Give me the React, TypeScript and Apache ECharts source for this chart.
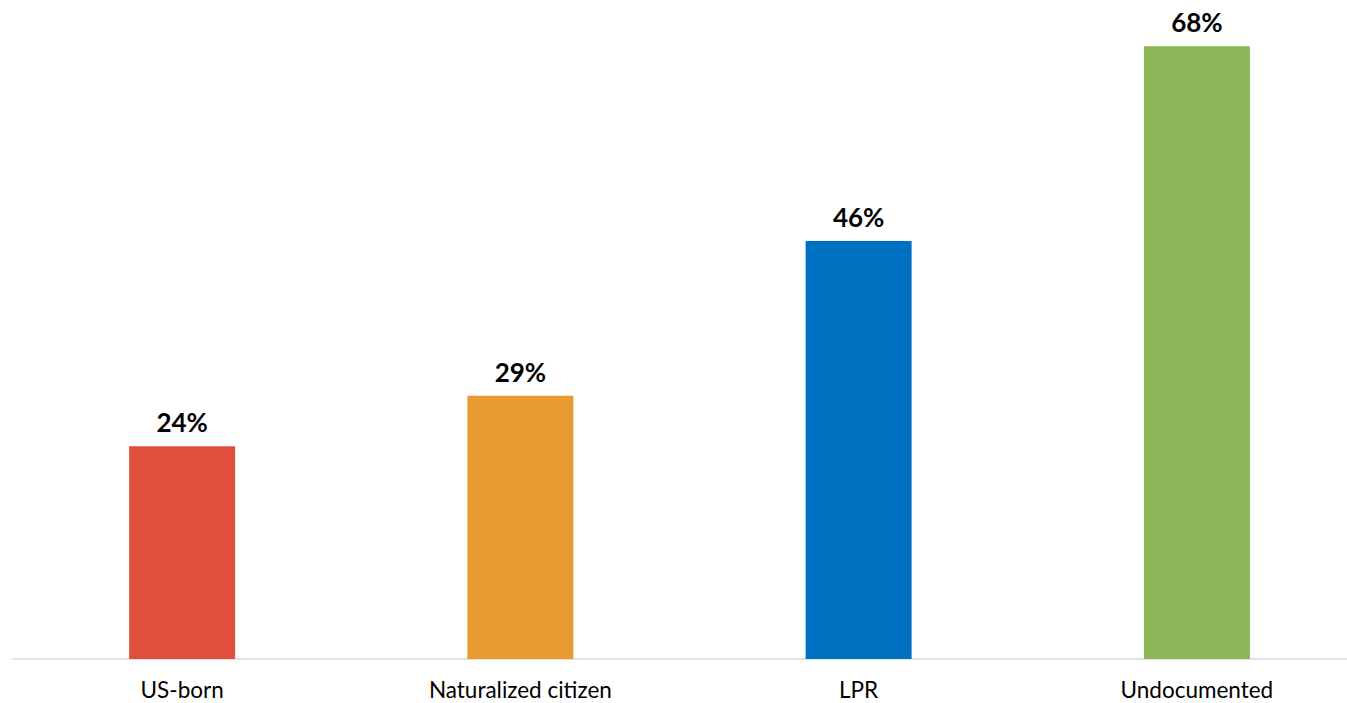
import React, { useEffect, useRef } from "react";
import * as echarts from "echarts";

const categories = ["US-born", "Naturalized citizen", "LPR", "Undocumented"];
const values = [23.5, 29.1, 46.2, 67.7];
const colors = ["#E04E3D", "#EA9A33", "#0070C0", "#8BB557"];

export default function App() {
  const ref = useRef<HTMLDivElement>(null);
  useEffect(() => {
    const chart = echarts.init(ref.current!, null, { renderer: "svg" });
    chart.setOption({
      animation: false,
      grid: { left: 13, right: 0, top: 25.5, bottom: 44 },
      xAxis: {
        type: "category",
        data: categories,
        axisLine: { lineStyle: { color: "#D9D9D9", width: 1.5 } },
        axisTick: { show: false },
        axisLabel: {
          color: "#000",
          fontFamily: "Lato",
          fontSize: 22.5,
          margin: 19,
        },
      },
      yAxis: {
        type: "value",
        min: 0,
        max: 70,
        show: false,
        splitLine: { show: false },
      },
      series: [
        {
          type: "bar",
          barWidth: 106,
          data: values.map((v, i) => ({ value: v, itemStyle: { color: colors[i] } })),
          label: {
            show: true,
            position: "top",
            distance: 11,
            color: "#000",
            fontFamily: "Lato",
            fontWeight: "bold",
            fontSize: 26,
            formatter: (p: any) => Math.round(p.value) + "%",
          },
        },
      ],
    });
    return () => chart.dispose();
  }, []);
  return (
    <div style={{ width: 1347, height: 703, position: "absolute", left: 0, top: 0, overflow: "hidden" }}>
      <div ref={ref} style={{ width: 1366, height: 703 }} />
    </div>
  );
}
